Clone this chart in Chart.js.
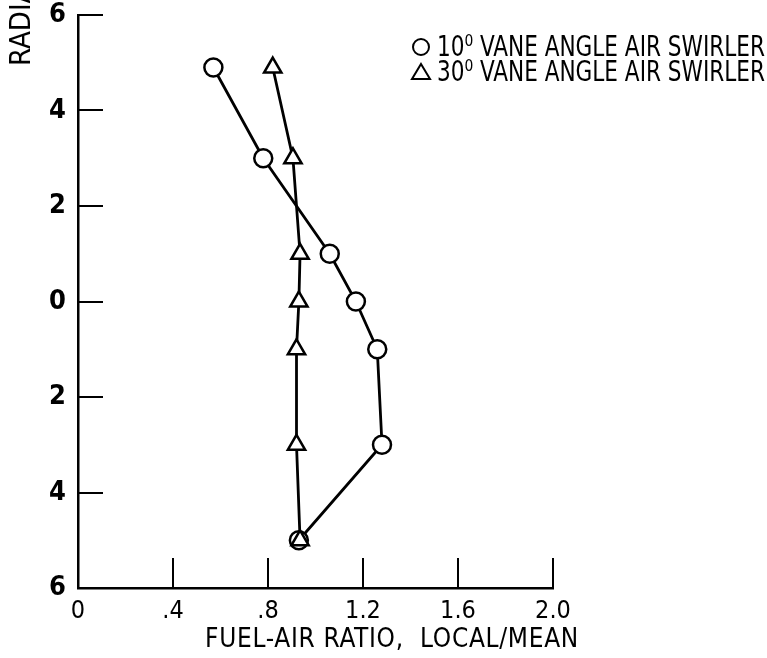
<!DOCTYPE html>
<html>
<head>
<meta charset="utf-8">
<script src="https://cdn.jsdelivr.net/npm/chart.js@4/dist/chart.umd.min.js"></script>
<style>
html,body{margin:0;padding:0;background:#fff}
#wrap{width:767px;height:658px;position:relative}
</style>
</head>
<body>
<div id="wrap"><canvas id="chart"></canvas></div>
<script>
// radial position of each measuring station (cm), top to bottom
var radial = [4.9, 3, 1, 0, -1, -3, -5];
// fuel-air ratio, local/mean
var vane10 = [0.57, 0.78, 1.06, 1.17, 1.26, 1.28, 0.93];
var vane30 = [0.82, 0.905, 0.935, 0.93, 0.92, 0.92, 0.935];
var seriesNames = ["10\u2070 VANE ANGLE AIR SWIRLER", "30\u2070 VANE ANGLE AIR SWIRLER"];
var xTicks = [0, 0.4, 0.8, 1.2, 1.6, 2.0];
var xTickLabels = ["0", ".4", ".8", "1.2", "1.6", "2.0"];
var yTicks = [6, 4, 2, 0, -2, -4, -6];
var xTitle = "FUEL-AIR RATIO,  LOCAL/MEAN";
var yTitle = "RADIAL POSITION, CM";

var FONT = '"Liberation Sans Narrow", "DejaVu Sans Condensed", sans-serif';

function pts(xs){
  var out = [];
  for (var i = 0; i < xs.length; i++) out.push({x: xs[i], y: radial[i]});
  return out;
}

// fit a line of text to a given width by adding letter spacing
function spacedText(ctx, text, cx, y, width){
  var w = ctx.measureText(text).width;
  var extra = (width - w) / (text.length - 1);
  if (extra < 0) extra = 0;
  ctx.letterSpacing = extra + "px";
  ctx.textAlign = "left";
  ctx.fillText(text, cx - width / 2, y, width);
  ctx.letterSpacing = "0px";
}

// tick marks drawn inside the plot, plus legend and titles
var extras = {
  id: "extras",
  afterDraw: function(chart){
    var ctx = chart.ctx, xs = chart.scales.x, ys = chart.scales.y;
    var a = chart.chartArea;
    ctx.save();
    ctx.strokeStyle = "#000";
    ctx.lineWidth = 2;
    ctx.beginPath();
    xTicks.forEach(function(v){
      if (v === 0) return;
      var px = Math.round(xs.getPixelForValue(v));
      ctx.moveTo(px, a.bottom); ctx.lineTo(px, a.bottom - 30);
    });
    yTicks.forEach(function(v){
      if (v === -6) return;
      var py = Math.round(ys.getPixelForValue(v));
      ctx.moveTo(a.left, py); ctx.lineTo(a.left + 25, py);
    });
    ctx.stroke();

    // legend, circle series first
    ctx.fillStyle = "#000";
    ctx.font = "29px " + FONT;
    ctx.textBaseline = "middle";
    ctx.textAlign = "left";
    var rows = [47, 72];
    var order = [1, 0];
    order.forEach(function(di, r){
      var ds = chart.data.datasets[di];
      var y = rows[r];
      ctx.beginPath();
      ctx.lineWidth = 2;
      if (ds.pointStyle === "circle"){
        ctx.arc(421, y, 8, 0, Math.PI * 2);
      } else {
        ctx.moveTo(421, y - 8); ctx.lineTo(430, y + 7); ctx.lineTo(412, y + 7); ctx.closePath();
      }
      ctx.stroke();
      ctx.fillText(ds.label, 437, y + 1, 328);
    });

    // x title
    ctx.font = "26px " + FONT;
    ctx.textBaseline = "middle";
    spacedText(ctx, xTitle, 392, 640, 374);

    // y title (runs off the top edge like the scan)
    ctx.translate(22, 66);
    ctx.rotate(-Math.PI / 2);
    ctx.font = "29px " + FONT;
    ctx.textBaseline = "middle";
    ctx.textAlign = "left";
    ctx.fillText(yTitle, 0, 0);
    ctx.restore();
  }
};

new Chart(document.getElementById("chart"), {
  type: "scatter",
  data: {
    datasets: [
      {
        label: seriesNames[1],
        data: pts(vane30),
        showLine: true,
        borderColor: "#000",
        borderWidth: 2.8,
        backgroundColor: "#fff",
        pointStyle: "triangle",
        pointRadius: 10,
        pointBorderWidth: 2.5,
        pointBorderColor: "#000",
        pointBackgroundColor: "#fff"
      },
      {
        label: seriesNames[0],
        data: pts(vane10),
        showLine: true,
        borderColor: "#000",
        borderWidth: 2.8,
        backgroundColor: "#fff",
        pointStyle: "circle",
        pointRadius: 9,
        pointBorderWidth: 2.5,
        pointBorderColor: "#000",
        pointBackgroundColor: "#fff"
      }
    ]
  },
  options: {
    responsive: true,
    maintainAspectRatio: false,
    animation: false,
    layout: { padding: { top: 15, right: 214, left: 0, bottom: 0 } },
    plugins: {
      legend: { display: false },
      tooltip: { enabled: false }
    },
    scales: {
      x: {
        type: "linear",
        min: 0, max: 2,
        afterBuildTicks: function(s){ s.ticks = xTicks.map(function(v){ return {value: v}; }); },
        afterFit: function(s){ s.height = 70; },
        grid: { display: false },
        border: { display: true, color: "#000", width: 2.5 },
        ticks: {
          color: "#000",
          font: { family: FONT, size: 25 },
          padding: 0,
          maxRotation: 0,
          callback: function(v, i){ return xTickLabels[i]; }
        },
        title: { display: false }
      },
      y: {
        type: "linear",
        min: -6, max: 6,
        afterBuildTicks: function(s){ s.ticks = yTicks.map(function(v){ return {value: v}; }); },
        afterFit: function(s){ s.width = 78; s.paddingTop = 0; s.paddingBottom = 0; },
        grid: { display: false },
        border: { display: true, color: "#000", width: 2.5 },
        ticks: {
          color: "#000",
          font: { family: FONT, size: 27, weight: "bold", lineHeight: 0.8 },
          padding: 4,
          callback: function(v){ return String(Math.abs(v)); }
        }
      }
    }
  },
  plugins: [extras]
});
</script>
</body>
</html>
